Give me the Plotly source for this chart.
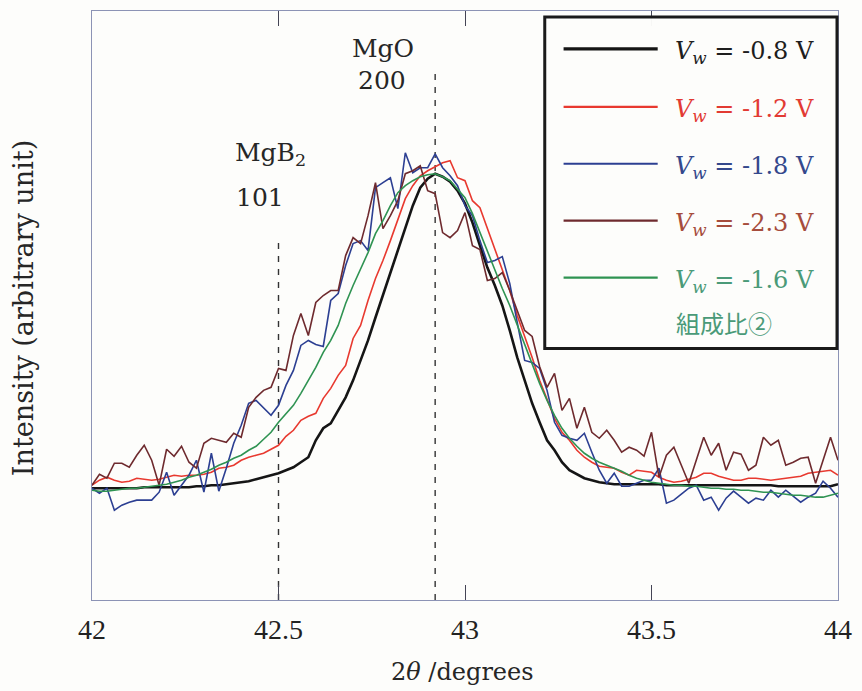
import plotly.graph_objects as go

# 2-theta grid (degrees)
two_theta = [round(42 + 0.02 * i, 2) for i in range(101)]

# Intensities (arbitrary units)
i_m08 = [112,112,112,112,112,112,112,113,113,113,113,113,113,113,114,114,115,115,116,117,
         118,119,121,123,125,127,130,133,138,143,160,172,177,190,203,220,240,260,283,305,
         328,350,372,395,413,422,427,424,419,410,397,378,355,333,315,295,270,243,220,197,
         178,160,150,138,130,126,122,120,118,117,116,116,116,116,116,116,116,115,115,115,
         115,115,115,115,115,115,115,115,115,115,115,115,114,114,114,114,114,114,114,114,116]
i_m12 = [115,120,123,120,118,119,122,121,120,121,123,125,124,125,125,126,128,132,133,135,
         140,143,145,147,151,155,164,170,180,184,187,202,212,225,235,262,275,300,322,340,
         360,380,402,415,425,430,434,438,440,423,420,400,393,372,352,332,310,285,265,243,
         220,200,182,168,160,150,143,138,134,133,132,128,125,130,129,128,123,120,118,119,
         121,123,127,127,124,122,120,120,122,122,121,120,121,122,123,124,127,128,129,130,125]
i_m18 = [112,107,112,90,95,98,100,100,100,108,128,105,115,125,140,108,147,109,132,157,
         175,197,200,192,185,195,215,230,255,260,256,254,300,307,335,357,360,350,413,418,
         423,392,448,428,433,433,447,433,425,415,395,385,360,338,340,344,317,278,240,238,
         232,210,178,165,162,160,167,148,130,117,127,114,114,117,120,120,132,97,100,106,
         112,115,100,103,90,102,109,103,97,102,100,110,103,110,104,98,103,107,119,112,103]
i_m23 = [115,126,122,137,137,133,145,155,140,115,151,144,154,138,132,157,162,160,158,167,
         163,193,203,210,213,232,230,265,287,265,298,305,310,310,345,363,357,385,418,372,
         385,400,427,430,435,410,407,368,363,370,388,355,351,320,322,328,310,290,270,264,
         234,213,227,190,202,172,193,168,162,170,160,148,153,150,144,168,123,145,153,135,
         117,140,163,145,157,130,148,146,130,135,163,155,160,135,138,142,143,117,140,163,140]
i_m16 = [110,109,109,110,111,112,112,113,114,115,116,118,120,123,125,128,131,135,138,142,
         145,150,154,161,168,178,187,195,207,220,233,248,260,275,297,315,332,348,367,380,
         395,408,415,420,424,426,427,424,420,412,403,387,368,348,330,312,295,275,255,235,
         217,200,185,172,162,154,147,142,138,135,132,129,125,122,120,118,117,116,115,115,
         114,114,113,112,112,111,111,110,110,109,108,108,107,106,105,105,104,103,103,105,107]

series_names = ["V_w = -0.8 V", "V_w = -1.2 V", "V_w = -1.8 V", "V_w = -2.3 V", "V_w = -1.6 V 組成比②"]
legend_labels = ["-0.8 V", "-1.2 V", "-1.8 V", "-2.3 V", "-1.6 V"]
line_colors = ["#151515", "#e8392f", "#2c3f92", "#6e2a2e", "#2f9352"]
text_colors = ["#1e1e1e", "#e23a33", "#34488c", "#a64c3c", "#4a9a78"]
line_widths = [2.6, 1.6, 1.6, 1.6, 1.6]
intensities = [i_m08, i_m12, i_m18, i_m23, i_m16]

x_ticks = [42, 42.5, 43, 43.5, 44]
x_tick_text = ["42", "42.5", "43", "43.5", "44"]

ref_positions = [42.5, 42.92]
ref_tops = [360, 533]

# Figure geometry (pixels)
W, H = 862, 691
L, R, T, B = 92, 17, 10, 91
PW, PH = W - L - R, H - T - B

def px(x):
    return (x - L) / PW

def py(y):
    return (H - B - y) / PH

SERIF = "Liberation Serif"
SERIF2 = "DejaVu Serif"
TXT = "#262626"

fig = go.Figure()
for name, y, c, w in zip(series_names, intensities, line_colors, line_widths):
    fig.add_trace(go.Scatter(x=two_theta, y=y, mode="lines", name=name,
                             line=dict(color=c, width=w), showlegend=False))

shapes = []
for xr, yt in zip(ref_positions, ref_tops):
    shapes.append(dict(type="line", xref="x", yref="y", x0=xr, x1=xr, y0=0, y1=yt,
                       line=dict(color="#333333", width=1.4, dash="6px,7px"), layer="below"))

# legend box
shapes.append(dict(type="rect", xref="paper", yref="paper",
                   x0=px(549), x1=px(844), y0=py(16), y1=py(348),
                   line=dict(color="#1a1a1a", width=3), fillcolor="rgba(253,253,251,0.97)"))
annotations = []
row_y = [48, 106, 163, 220, 277]
for lab, lc, tc, lw, ry in zip(legend_labels, line_colors, text_colors, line_widths, row_y):
    shapes.append(dict(type="line", xref="paper", yref="paper",
                       x0=px(568), x1=px(663), y0=py(ry), y1=py(ry),
                       line=dict(color=lc, width=lw + 0.6)))
    annotations.append(dict(xref="paper", yref="paper", x=px(678), y=py(ry + 4),
                            xanchor="left", yanchor="middle", showarrow=False,
                            text="<i>V</i><sub><i>w</i></sub> = " + lab,
                            font=dict(family=SERIF2, size=24, color=tc)))
annotations.append(dict(xref="paper", yref="paper", x=px(730), y=py(322),
                        xanchor="center", yanchor="middle", showarrow=False,
                        text="組成比②",
                        font=dict(family="Noto Sans CJK JP", size=24, color=text_colors[4])))

def label(x, y, text, size=25, angle=0):
    return dict(xref="paper", yref="paper", x=px(x), y=py(y), text=text,
                xanchor="center", yanchor="middle", textangle=angle, showarrow=False,
                font=dict(family=SERIF2, size=size, color=TXT))

# peak labels and axis titles
annotations += [
    label(386, 48, "MgO"),
    label(385, 80, "200"),
    label(272, 153, "MgB<sub>2</sub>"),
    label(262, 197, "101"),
    label(23, 308, "Intensity (arbitrary unit)", size=27, angle=-90),
    label(466, 672, "2<i>θ</i> /degrees", size=24),
]

fig.update_layout(
    width=W, height=H,
    margin=dict(l=L, r=R, t=T, b=B),
    paper_bgcolor="#fdfdfb", plot_bgcolor="#fdfdfb",
    shapes=shapes, annotations=annotations,
    xaxis=dict(range=[42, 44], tickvals=x_ticks, ticktext=x_tick_text,
               ticks="inside", ticklen=15, tickwidth=1, tickcolor="#444455",
               showline=True, linecolor="#8c93b5", linewidth=1.2, mirror="ticks",
               showgrid=False, zeroline=False, ticklabelstandoff=4,
               tickfont=dict(family=SERIF, size=28, color="#222222")),
    yaxis=dict(range=[0, 590], showticklabels=False, ticks="", showline=True,
               linecolor="#8c93b5", linewidth=1.2, mirror=True,
               showgrid=False, zeroline=False),
)

fig.write_html("out.html")
